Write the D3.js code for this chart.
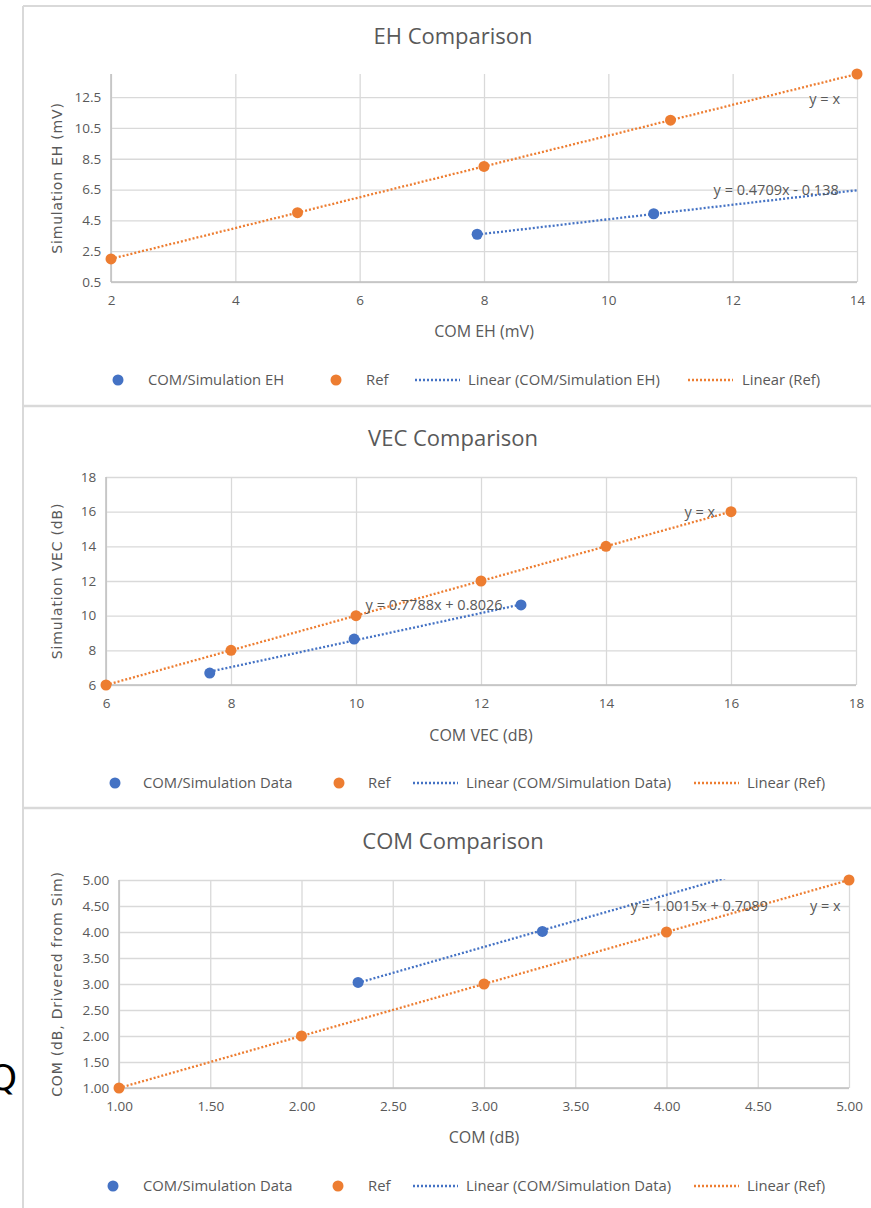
<!DOCTYPE html>
<html><head><meta charset="utf-8">
<script src="https://cdn.jsdelivr.net/npm/d3@7"></script>
<style>
html,body{margin:0;padding:0;background:#fff;}
svg{display:block;}
text{font-family:"Open Sans",sans-serif;fill:#595959;}
</style></head>
<body>
<svg id="c" width="871" height="1208"></svg>
<script>
// ---------- DATA ----------
// Chart 1: EH Comparison
const ehSimX = [7.89, 10.73];
const ehSimY = [3.6, 4.93];
const ehRefX = [2, 5, 8, 11, 14];
const ehRefY = [2, 5, 8, 11, 14];
const ehSimTrend = [0.4709, -0.138];
const ehRefTrend = [1, 0];
const ehXTicks = [2, 4, 6, 8, 10, 12, 14];
const ehYTicks = [0.5, 2.5, 4.5, 6.5, 8.5, 10.5, 12.5];
const ehLegend = ["COM/Simulation EH", "Ref", "Linear (COM/Simulation EH)", "Linear (Ref)"];

// Chart 2: VEC Comparison
const vecSimX = [7.66, 9.97, 12.64];
const vecSimY = [6.69, 8.65, 10.62];
const vecRefX = [6, 8, 10, 12, 14, 16];
const vecRefY = [6, 8, 10, 12, 14, 16];
const vecSimTrend = [0.7788, 0.8026];
const vecRefTrend = [1, 0];
const vecXTicks = [6, 8, 10, 12, 14, 16, 18];
const vecYTicks = [6, 8, 10, 12, 14, 16, 18];
const vecLegend = ["COM/Simulation Data", "Ref", "Linear (COM/Simulation Data)", "Linear (Ref)"];

// Chart 3: COM Comparison
const comSimX = [2.31, 3.32];
const comSimY = [3.03, 4.01];
const comRefX = [1, 2, 3, 4, 5];
const comRefY = [1, 2, 3, 4, 5];
const comSimTrend = [1.0015, 0.7089];
const comRefTrend = [1, 0];
const comXTicks = [1, 1.5, 2, 2.5, 3, 3.5, 4, 4.5, 5];
const comYTicks = [1, 1.5, 2, 2.5, 3, 3.5, 4, 4.5, 5];
const comLegend = ["COM/Simulation Data", "Ref", "Linear (COM/Simulation Data)", "Linear (Ref)"];

// ---------- DRAW ----------
const BLUE = "#4472C4", ORANGE = "#ED7D31", GRID = "#d9d9d9";
const DOTS = "2,2";
const svg = d3.select("#c");

// outer frame
svg.append("line").attr("x1",23).attr("x2",23).attr("y1",6).attr("y2",1208).attr("stroke","#d9d9d9").attr("stroke-width",2);
svg.append("line").attr("x1",23).attr("x2",871).attr("y1",6).attr("y2",6).attr("stroke","#d9d9d9").attr("stroke-width",2);
[406, 808].forEach(y=>svg.append("line").attr("x1",23).attr("x2",871).attr("y1",y).attr("y2",y).attr("stroke","#d9d9d9").attr("stroke-width",2.5));

let clipId = 0;
function drawChart(cfg){
  const g = svg.append("g");
  const x = d3.scaleLinear().domain(cfg.xDomain).range([cfg.left, cfg.right]);
  const y = d3.scaleLinear().domain(cfg.yDomain).range([cfg.bottom, cfg.top]);
  const fmt = cfg.fmt;

  // gridlines + tick labels
  g.append("g").attr("transform",`translate(0,${cfg.bottom})`)
    .call(d3.axisBottom(x).tickValues(cfg.xTicks).tickSize(-(cfg.bottom-cfg.top)).tickFormat(fmt))
    .call(a=>{a.select(".domain").remove();
      a.selectAll(".tick line").attr("stroke",GRID).attr("stroke-width",1.3);
      a.selectAll(".tick text").attr("dy","1.45em").style("font-size","13.5px").style("font-family","'Open Sans',sans-serif").attr("fill","#595959");});
  g.append("g").attr("transform",`translate(${cfg.left},0)`)
    .call(d3.axisLeft(y).tickValues(cfg.yTicks).tickSize(-(cfg.right-cfg.left)).tickFormat(fmt))
    .call(a=>{a.select(".domain").remove();
      a.selectAll(".tick line").attr("stroke",GRID).attr("stroke-width",1.3);
      a.selectAll(".tick text").attr("dx","-0.5em").style("font-size","13.5px").style("font-family","'Open Sans',sans-serif").attr("fill","#595959");});
  // axis lines
  g.append("line").attr("x1",cfg.left).attr("x2",cfg.right).attr("y1",cfg.bottom).attr("y2",cfg.bottom).attr("stroke","#bfbfbf").attr("stroke-width",1.5);
  g.append("line").attr("x1",cfg.left).attr("x2",cfg.left).attr("y1",cfg.top).attr("y2",cfg.bottom).attr("stroke","#bfbfbf").attr("stroke-width",1.5);

  // clip
  const cid = "clip"+(clipId++);
  g.append("clipPath").attr("id",cid).append("rect")
    .attr("x",cfg.left).attr("y",cfg.top-1).attr("width",cfg.right-cfg.left+1).attr("height",cfg.bottom-cfg.top+2);

  // trendlines
  const line = d3.line().x(d=>x(d[0])).y(d=>y(d[1]));
  function trend(coef, x0, x1, color){
    const pts = [[x0, coef[0]*x0+coef[1]], [x1, coef[0]*x1+coef[1]]];
    g.append("path").attr("d",line(pts)).attr("clip-path",`url(#${cid})`)
      .attr("fill","none").attr("stroke",color).attr("stroke-width",2.3)
      .attr("stroke-dasharray",DOTS);
  }
  trend(cfg.refTrend, d3.min(cfg.refX), d3.max(cfg.refX), ORANGE);
  trend(cfg.simTrend, d3.min(cfg.simX), cfg.simTrendEnd, BLUE);

  // points
  g.selectAll(".sim").data(cfg.simX).join("circle")
    .attr("cx",d=>x(d)).attr("cy",(d,i)=>y(cfg.simY[i])).attr("r",5.5).attr("fill",BLUE);
  g.selectAll(".ref").data(cfg.refX).join("circle")
    .attr("cx",d=>x(d)).attr("cy",(d,i)=>y(cfg.refY[i])).attr("r",5.5).attr("fill",ORANGE);

  // equation labels
  cfg.eqs.forEach(e=>{
    g.append("text").attr("x",x(e[1])).attr("y",y(e[2])).attr("dy","0.35em")
      .attr("text-anchor","middle").style("font-size","14.5px").text(e[0]);
  });

  // title
  g.append("text").attr("x",cfg.titleX).attr("y",cfg.titleY).attr("text-anchor","middle")
    .style("font-size","22px").text(cfg.title);
  // x label
  g.append("text").attr("x",(cfg.left+cfg.right)/2).attr("y",cfg.xLabelY).attr("text-anchor","middle")
    .style("font-size","16px").text(cfg.xLabel);
  // y label
  g.append("text").attr("transform",`translate(${cfg.yLabelX},${(cfg.top+cfg.bottom)/2}) rotate(-90)`)
    .attr("text-anchor","middle").style("font-family","'DejaVu Sans',sans-serif").style("font-size","14px")
    .style("letter-spacing","0.8px").text(cfg.yLabel);

  // legend
  const L = cfg.legendX, ly = cfg.legendY, LF = "14.8px";
  g.append("circle").attr("cx",L[0]).attr("cy",ly).attr("r",5.5).attr("fill",BLUE);
  g.append("text").attr("x",L[1]).attr("y",ly).attr("dy","0.35em").style("font-size",LF).text(cfg.legend[0]);
  g.append("circle").attr("cx",L[2]).attr("cy",ly).attr("r",5.5).attr("fill",ORANGE);
  g.append("text").attr("x",L[3]).attr("y",ly).attr("dy","0.35em").style("font-size",LF).text(cfg.legend[1]);
  g.append("line").attr("x1",L[4]).attr("x2",L[4]+45).attr("y1",ly).attr("y2",ly).attr("stroke",BLUE).attr("stroke-width",2.3).attr("stroke-dasharray",DOTS);
  g.append("text").attr("x",L[5]).attr("y",ly).attr("dy","0.35em").style("font-size",LF).text(cfg.legend[2]);
  g.append("line").attr("x1",L[6]).attr("x2",L[6]+45).attr("y1",ly).attr("y2",ly).attr("stroke",ORANGE).attr("stroke-width",2.3).attr("stroke-dasharray",DOTS);
  g.append("text").attr("x",L[7]).attr("y",ly).attr("dy","0.35em").style("font-size",LF).text(cfg.legend[3]);
}

drawChart({
  left:111,right:857,top:74,bottom:282,xDomain:[2,14],yDomain:[0.5,14],
  xTicks:ehXTicks,yTicks:ehYTicks,fmt:d3.format("~g"),
  simX:ehSimX,simY:ehSimY,refX:ehRefX,refY:ehRefY,simTrend:ehSimTrend,refTrend:ehRefTrend,simTrendEnd:14,
  eqs:[["y = x",13.48,12.37],["y = 0.4709x - 0.138",12.7,6.5]],
  title:"EH Comparison",titleX:453,titleY:44,xLabelY:337,xLabel:"COM EH (mV)",yLabel:"Simulation EH (mV)",yLabelX:62,
  legend:ehLegend,legendX:[118,148,336,366,415,468,688,742],legendY:380
});
drawChart({
  left:106,right:856,top:477,bottom:685,xDomain:[6,18],yDomain:[6,18],
  xTicks:vecXTicks,yTicks:vecYTicks,fmt:d3.format("~g"),
  simX:vecSimX,simY:vecSimY,refX:vecRefX,refY:vecRefY,simTrend:vecSimTrend,refTrend:vecRefTrend,simTrendEnd:12.64,
  eqs:[["y = x",15.5,15.98],["y = 0.7788x + 0.8026",11.25,10.6]],
  title:"VEC Comparison",titleX:453,titleY:446,xLabel:"COM VEC (dB)",xLabelY:741,yLabel:"Simulation  VEC (dB)",yLabelX:62,
  legend:vecLegend,legendX:[115,143,339,368,413,466,694,747],legendY:783
});
drawChart({
  left:119,right:849,top:880,bottom:1088,xDomain:[1,5],yDomain:[1,5],
  xTicks:comXTicks,yTicks:comYTicks,fmt:d3.format(".2f"),
  simX:comSimX,simY:comSimY,refX:comRefX,refY:comRefY,simTrend:comSimTrend,refTrend:comRefTrend,simTrendEnd:4.6,
  eqs:[["y = 1.0015x + 0.7089",4.18,4.5],["y = x",4.87,4.5]],
  title:"COM Comparison",titleX:453,titleY:849,xLabel:"COM (dB)",xLabelY:1143,yLabel:"COM (dB,  Drivered  from  Sim)",yLabelX:62,
  legend:comLegend,legendX:[113,143,338,368,413,466,694,747],legendY:1186
});

// stray glyph at the left edge (partly outside the picture, as in the reference)
svg.append("text").attr("x",3).attr("y",1090).attr("text-anchor","middle")
  .style("font-family","'DejaVu Sans',sans-serif").style("font-size","36px").style("fill","#000").text("Q");
</script>
</body></html>
